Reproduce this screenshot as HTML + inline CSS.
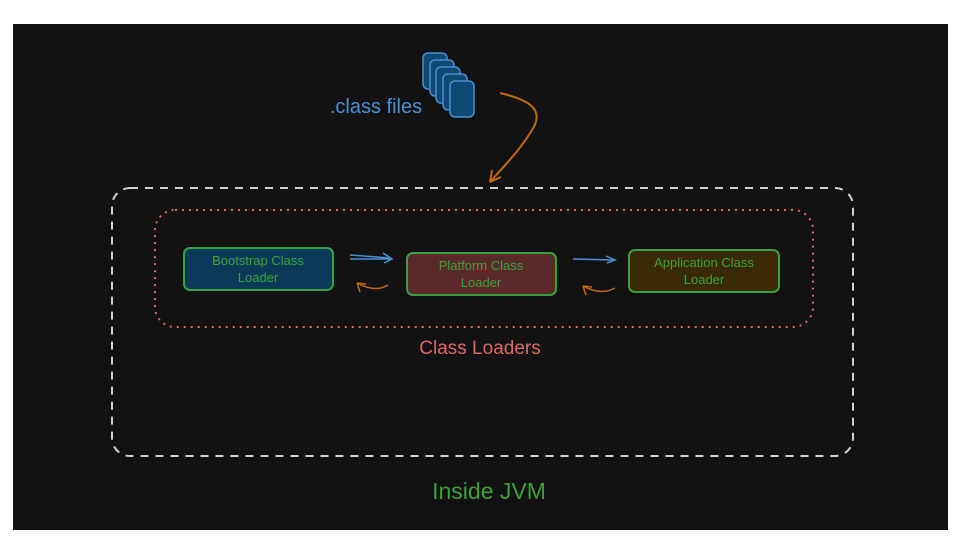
<!DOCTYPE html>
<html><head><meta charset="utf-8"><style>
html,body{margin:0;padding:0;background:#fff;}
svg{display:block;}
text{font-family:"Liberation Sans",sans-serif;}
</style></head><body>
<svg width="965" height="554" viewBox="0 0 965 554" xmlns="http://www.w3.org/2000/svg">
<rect x="13" y="24" width="935" height="506" fill="#121212"/>
<rect x="112" y="188" width="741" height="268" rx="18" fill="none" stroke="#d0d0d0" stroke-width="2" stroke-dasharray="8,7"/>
<rect x="155" y="210" width="658" height="117" rx="20" fill="none" stroke="#e06666" stroke-width="2" stroke-dasharray="2,5"/>
<g fill="#0f4a75" stroke="#4a8fd0" stroke-width="1.5">
<rect x="423" y="53" width="24" height="36" rx="5"/>
<rect x="430" y="60" width="24" height="36" rx="5"/>
<rect x="436" y="67" width="24" height="36" rx="5"/>
<rect x="443" y="74" width="24" height="36" rx="5"/>
<rect x="450" y="81" width="24" height="36" rx="5"/>
</g>
<text x="376" y="113" font-size="20" fill="#4a90d9" text-anchor="middle">.class files</text>
<path d="M500 93 C530 100 545 110 532 130 C520 150 505 165 490 182" fill="none" stroke="#c06a0a" stroke-width="2"/>
<path d="M490 182 L492 170 M490 182 L501 177" stroke="#c06a0a" stroke-width="2" fill="none"/>
<rect x="184" y="248" width="149" height="42" rx="6" fill="#0c3b5a" stroke="#3aa03a" stroke-width="2"/>
<rect x="407" y="253" width="149" height="42" rx="6" fill="#5a2a2a" stroke="#3aa03a" stroke-width="2"/>
<rect x="629" y="250" width="150" height="42" rx="6" fill="#3a2a06" stroke="#3aa03a" stroke-width="2"/>
<g font-size="13" fill="#3aa03a" text-anchor="middle">
<text x="258" y="265">Bootstrap Class</text><text x="258" y="282">Loader</text>
<text x="481" y="270">Platform Class</text><text x="481" y="287">Loader</text>
<text x="704" y="267">Application Class</text><text x="704" y="284">Loader</text>
</g>
<g stroke="#4a90d9" stroke-width="1.5" fill="none">
<path d="M350 255 L390 258 M350 259 L390 259 M383 253 L392 259 L384 263"/>
<path d="M573 259 L614 260 M606 256 L615 260 L607 263"/>
</g>
<g stroke="#c06a0a" stroke-width="1.5" fill="none">
<path d="M357 283 C370 290 380 290 388 285 M357 283 L360 292 M357 283 L366 284"/>
<path d="M583 286 C596 293 606 293 615 288 M583 286 L586 295 M583 286 L592 287"/>
</g>
<text x="480" y="354" font-size="19" fill="#e06666" text-anchor="middle">Class Loaders</text>
<text x="489" y="499" font-size="23" fill="#3aa03a" text-anchor="middle">Inside JVM</text>
</svg>
</body></html>
